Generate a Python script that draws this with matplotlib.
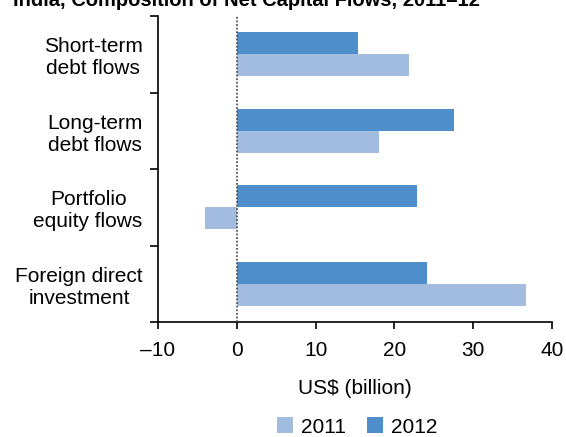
import matplotlib.pyplot as plt
import numpy as np

plt.rcParams['font.family'] = ['Liberation Sans', 'DejaVu Sans']

categories = ["Foreign direct\ninvestment", "Portfolio\nequity flows",
              "Long-term\ndebt flows", "Short-term\ndebt flows"]
flows_2011 = [36.7, -4.0, 18.0, 21.8]
flows_2012 = [24.1, 22.9, 27.6, 15.4]
years = ["2011", "2012"]

c2011 = "#a2bce0"
c2012 = "#4e8fcb"
fs = 15

fig = plt.figure(figsize=(5.66, 4.37), dpi=100)
ax = fig.add_axes([158/566, 1 - 322/437, 394/566, 306/437])

y = np.arange(len(categories))
h = 0.285
ax.barh(y - h/2, flows_2011, height=h, color=c2011, label=years[0])
ax.barh(y + h/2, flows_2012, height=h, color=c2012, label=years[1])

# dotted zero line
ax.axvline(0, color="#555555", linestyle=(0, (1, 1)), linewidth=1.3, zorder=3)

ax.set_xlim(-10, 40)
ax.set_ylim(-0.5, 3.5)
ax.set_xticks([-10, 0, 10, 20, 30, 40])
ax.set_xticklabels(["\u201310", "0", "10", "20", "30", "40"])
ax.set_yticks([-0.5, 0.5, 1.5, 2.5, 3.5])
ax.set_yticklabels([])
ax.set_yticks(y, minor=True)
ax.set_yticklabels(categories, minor=True, multialignment="center")
ax.tick_params(axis="y", which="minor", length=0, pad=11, labelsize=fs)
ax.tick_params(axis="y", which="major", length=6, width=1.2, direction="out")
ax.tick_params(axis="x", length=5, width=1.2, direction="out", pad=9, labelsize=fs)

for s in ["top", "right"]:
    ax.spines[s].set_visible(False)
for s in ["left", "bottom"]:
    ax.spines[s].set_linewidth(1.2)

ax.set_xlabel("US$ (billion)", fontsize=fs, labelpad=13)

fig.legend(loc="center", bbox_to_anchor=(357/566, 1 - 427/437), ncol=2, frameon=False,
           fontsize=fs, handlelength=0.77, handleheight=0.77, handletextpad=0.4,
           columnspacing=1.0, borderpad=0, borderaxespad=0)

fig.text(13/566, 1 - 6/437, "India, Composition of Net Capital Flows, 2011\u201312",
         fontsize=14.5, fontweight="bold", va="baseline", ha="left")

fig.savefig("out.png", dpi=100)
